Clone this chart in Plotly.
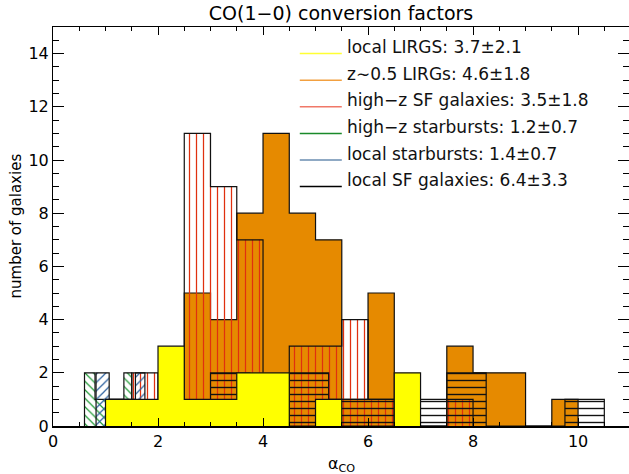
import plotly.graph_objects as go

# ---- histogram data: bin edges (n+1) and galaxy counts (n) per sample ----
local_lirg_edges = [1.0, 1.5, 2.0, 2.5, 3.0, 3.5, 4.0, 4.5, 5.0, 5.5, 6.0, 6.5, 7.0]
local_lirg_counts = [1, 1, 3, 1, 1, 2, 2, 0, 1, 0, 0, 2]

z05_lirg_edges = [2.5, 3.0, 3.5, 4.0, 4.5, 5.0, 5.5, 6.0, 6.5, 7.0, 7.5, 8.0, 8.5, 9.0, 9.5, 10.0]
z05_lirg_counts = [5, 4, 8, 11, 8, 7, 1, 5, 0, 0, 3, 2, 2, 0, 1]

highz_sf_edges = [1.5, 2.0, 2.5, 3.0, 3.5, 4.0, 4.5, 5.0, 5.5, 6.0, 6.5, 7.0, 7.5, 8.0]
highz_sf_counts = [2, 0, 11, 9, 7, 0, 3, 3, 4, 1, 0, 0, 1]

highz_sb_edges = [0.6, 0.8, 1.0, 1.35, 1.5]
highz_sb_counts = [2, 1, 1, 2]

local_sb_edges = [0.82, 1.07, 1.57, 1.75]
local_sb_counts = [2, 1, 2]

local_sf_edges = [3.0, 3.75, 4.5, 5.25, 6.0, 6.75, 7.5, 8.25, 9.0, 9.75, 10.5]
local_sf_counts = [2, 1, 2, 1, 1, 1, 2, 0, 0, 1]

legend_labels = [
    "local LIRGS: 3.7±2.1",
    "z∼0.5 LIRGs: 4.6±1.8",
    "high−z SF galaxies: 3.5±1.8",
    "high−z starbursts: 1.2±0.7",
    "local starbursts: 1.4±0.7",
    "local SF galaxies: 6.4±3.3",
]
legend_colors = ["#ffff33", "#f2a040", "#f07868", "#1a8a2a", "#6a8cb0", "#000000"]
legend_rows = [14, 13, 12, 11, 10, 9]

x_ticks = [0, 2, 4, 6, 8, 10]
y_ticks = [0, 2, 4, 6, 8, 10, 12, 14]

FONT = "DejaVu Sans"
CLEAR = "rgba(0,0,0,0)"


def step_xy(edges, counts):
    """Closed step outline of a histogram (starts and ends on the baseline)."""
    xs = [edges[0]] + list(edges)
    ys = [0] + list(counts) + [0]
    return xs, ys


def hist_trace(edges, counts, fillcolor=None, pattern=None):
    xs, ys = step_xy(edges, counts)
    kw = dict(
        x=xs, y=ys, mode="lines", line=dict(shape="hv", color="#111111", width=1.2),
        fill="tozeroy", showlegend=False, hoverinfo="skip",
    )
    if pattern is not None:
        kw["fillcolor"] = CLEAR
        kw["fillpattern"] = pattern
    else:
        kw["fillcolor"] = fillcolor
    return go.Scatter(**kw)


fig = go.Figure()

# drawing order: later samples paint over earlier ones
fig.add_trace(hist_trace(z05_lirg_edges, z05_lirg_counts, fillcolor="#e68a00"))
fig.add_trace(hist_trace(highz_sf_edges, highz_sf_counts,
                         pattern=dict(shape="|", fgcolor="#e0300f", bgcolor=CLEAR,
                                      size=7, solidity=0.18, fillmode="replace")))
fig.add_trace(hist_trace(highz_sb_edges, highz_sb_counts,
                         pattern=dict(shape="\\", fgcolor="#1f9a35", bgcolor=CLEAR,
                                      size=6, solidity=0.2, fillmode="replace")))
fig.add_trace(hist_trace(local_sb_edges, local_sb_counts,
                         pattern=dict(shape="/", fgcolor="#2a5f9e", bgcolor=CLEAR,
                                      size=6, solidity=0.2, fillmode="replace")))
fig.add_trace(hist_trace(local_sf_edges, local_sf_counts,
                         pattern=dict(shape="-", fgcolor="#111111", bgcolor=CLEAR,
                                      size=7, solidity=0.2, fillmode="replace")))
fig.add_trace(hist_trace(local_lirg_edges, local_lirg_counts, fillcolor="#ffff00"))

# key: short coloured line + label per sample
for label, color, row in zip(legend_labels, legend_colors, legend_rows):
    fig.add_shape(type="line", xref="x", yref="y", x0=4.70, x1=5.50, y0=row, y1=row,
                  line=dict(color=color, width=1.5))
    fig.add_annotation(x=5.56, y=row + 0.24, xref="x", yref="y", text=label,
                       showarrow=False, xanchor="left", yanchor="middle",
                       font=dict(family=FONT, size=17, color="#111111"))

tick_common = dict(ticks="inside", tickcolor="black", tickwidth=1,
                   showgrid=False, zeroline=False)

fig.update_layout(
    width=629, height=474,
    margin=dict(l=53, r=0, t=27, b=48),
    paper_bgcolor="white", plot_bgcolor="white",
    font=dict(family=FONT, size=16, color="black"),
    xaxis=dict(range=[0, 10.97], tickvals=x_ticks, ticklen=8,
               minor=dict(dtick=0.5, ticks="inside", ticklen=4, tickcolor="black"),
               showline=True, linecolor="black", linewidth=1.5,
               tickfont=dict(family=FONT, size=16), **tick_common),
    xaxis2=dict(range=[0, 10.97], overlaying="x", side="top", anchor="y",
                tickvals=x_ticks, ticklen=8, showticklabels=False,
                minor=dict(dtick=0.5, ticks="inside", ticklen=4, tickcolor="black"),
                showline=True, linecolor="black", linewidth=1, **tick_common),
    yaxis=dict(range=[0, 15], tickvals=y_ticks, ticklen=11,
               minor=dict(dtick=0.5, ticks="inside", ticklen=6, tickcolor="black"),
               showline=True, linecolor="black", linewidth=1,
               tickfont=dict(family=FONT, size=16), **tick_common),
    yaxis2=dict(range=[0, 15], overlaying="y", side="right", anchor="x",
                tickvals=y_ticks, ticklen=11, showticklabels=False,
                minor=dict(dtick=0.5, ticks="inside", ticklen=6, tickcolor="black"),
                showline=False, **tick_common),
    title=dict(text="CO(1−0) conversion factors", x=0.5, xref="paper", xanchor="center",
               y=1 - 13 / 474, yref="container", yanchor="middle",
               font=dict(family=FONT, size=19, color="black")),
)

# hidden placeholders so the mirrored top/right tick axes are rendered
fig.add_trace(go.Scatter(x=[None], y=[None], xaxis="x2", yaxis="y2",
                         showlegend=False, hoverinfo="skip"))

# axis titles
fig.add_annotation(xref="paper", yref="paper", x=0.5, y=-38 / 399, text="α<sub>CO</sub>",
                   showarrow=False, xanchor="center", yanchor="middle",
                   font=dict(family=FONT, size=16, color="black"))
fig.add_annotation(xref="paper", yref="paper", x=(15 - 53) / 576, y=0.5,
                   text="number of galaxies", textangle=-90, showarrow=False,
                   xanchor="center", yanchor="middle",
                   font=dict(family=FONT, size=15, color="black"))

fig.write_html("out.html")
